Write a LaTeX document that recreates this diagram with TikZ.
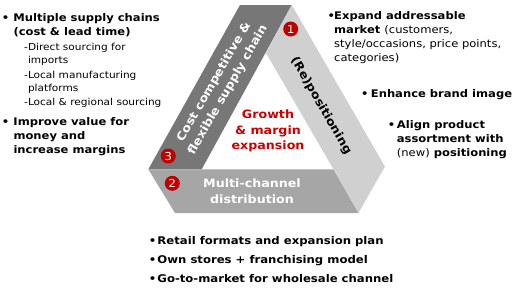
\documentclass[tikz,border=0pt]{standalone}
\usepackage{fontspec}
\setmainfont{DejaVu Sans}[FakeStretch=1.1]
\usepackage{xcolor}
\definecolor{BandDark}{HTML}{777777}
\definecolor{BandMid}{HTML}{A6A6A6}
\definecolor{BandLight}{HTML}{D0D0D0}
\definecolor{GrowthRed}{HTML}{CC0000}
\definecolor{BadgeRed}{HTML}{C00000}
\usetikzlibrary{positioning}
\tikzset{
  bandtext/.style={
    align=center,
    inner sep=0pt,
    font=\fontsize{11.5}{16}\selectfont\bfseries
  },
  badge/.style={
    circle,
    fill=BadgeRed,
    text=white,
    minimum size=15pt,
    inner sep=0pt,
    font=\fontsize{11}{11}\selectfont
  },
  point/.style={anchor=north west, align=left, inner sep=0pt, font=\fontsize{10.5}{14}\selectfont\bfseries},
  subpoint/.style={anchor=north west, align=left, inner sep=0pt, font=\fontsize{9.6}{13}\selectfont}
}
\newcommand{\bl}[1]{\makebox[#1][l]{\textbullet}}

\begin{document}
\begin{tikzpicture}[x=1pt, y=-1pt]
      \useasboundingbox (0,0) rectangle (530,292);

      % the three bands
      \fill[BandDark] (240,5) -- (291.7,5) -- (201.7,169.3) -- (148.3,169.3) -- cycle;
      \fill[BandMid] (148.3,169.3) -- (333.5,169.3) -- (358.5,213) -- (175,213) -- cycle;
      \fill[BandLight] (291.7,5) -- (384.9,166.5) -- (358.5,213) -- (333.5,169.3) -- (266,53) -- cycle;

      \node[bandtext, text=white, rotate=60] (supply) at (221,86) {Cost competitive \&\\flexible supply chain};
      \node[bandtext, rotate=-60] (repos) at (321,106) {(Re)positioning};
      \node[bandtext, text=white] (multi) at (252,191) {Multi-channel\\distribution};
      \node[bandtext, text=GrowthRed, font=\fontsize{11.5}{15.5}\selectfont\bfseries] (growth) at (268,131) {Growth\\\& margin\\expansion};

      \node[badge] (one) at (290.7,29) {1};
      \node[badge] (two) at (172.3,183.3) {2};
      \node[badge] (three) at (168.3,156) {3};

      % left: supply chain
      \node[point] (chains) at (1.6,13) {\bl{11.7pt}Multiple supply chains\\\hspace*{11.7pt}(cost \& lead time)};
      \node[subpoint] (sourcing) at (24,43) {-Direct sourcing for\\\phantom{-}imports\\[1.7pt]-Local manufacturing\\\phantom{-}platforms\\[1.7pt]-Local \& regional sourcing};
      \node[point] (value) at (1.6,117) {\bl{11.7pt}Improve value for\\\hspace*{11.7pt}money and\\\hspace*{11.7pt}increase margins};

      % right: positioning
      \node[point] (market) at (327.4,11) {\bl{6.6pt}Expand addressable\\\hspace*{6.6pt}market {\mdseries(customers,}\\\hspace*{6.6pt}{\mdseries style/occasions, price points,}\\\hspace*{6.6pt}{\mdseries categories)}};
      \node[point] (brand) at (361,89.3) {\bl{9.7pt}Enhance brand image};
      \node[point] (assort) at (387.6,120.3) {\bl{9.1pt}Align product\\\hspace*{9.1pt}assortment with\\\hspace*{9.1pt}{\mdseries(new)} positioning};

      % bottom: distribution
      \node[point, font=\fontsize{10.6}{19.3}\selectfont\bfseries] (retail) at (148.6,236) {\bl{8.7pt}Retail formats and expansion plan\\\bl{8.7pt}Own stores + franchising model\\\bl{8.7pt}Go-to-market for wholesale channel};
    \end{tikzpicture}
\end{document}
